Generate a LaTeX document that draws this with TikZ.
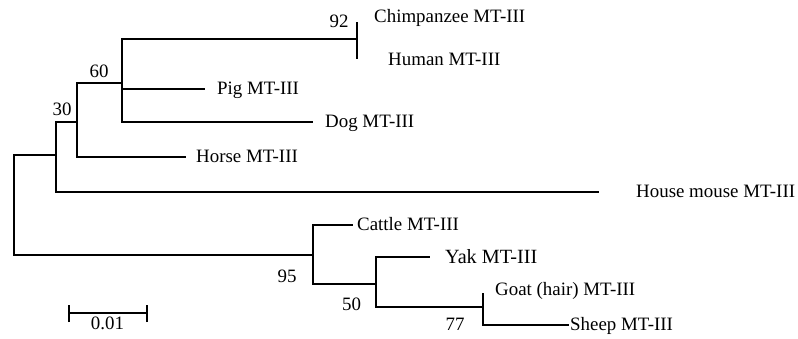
\documentclass[tikz,border=0pt]{standalone}
\usepackage{fontspec}
\setmainfont{Liberation Serif}
\begin{document}
\begin{tikzpicture}[x=1pt,y=-1pt,
  branch/.style={line width=2pt,line cap=rect},
  taxon/.style={anchor=base west,inner sep=0pt,font=\fontsize{18.9}{20}\selectfont},
  bigtaxon/.style={anchor=base west,inner sep=0pt,font=\fontsize{20.2}{22}\selectfont},
  boot/.style={anchor=center,inner sep=0pt,font=\fontsize{18.9}{20}\selectfont}]
\useasboundingbox (0,0) rectangle (798,339);

% internal nodes
\coordinate (root) at (14,205);
\coordinate (n1)   at (56,155);
\coordinate (n30)  at (77,122);
\coordinate (n60)  at (122,83);
\coordinate (n92)  at (357,39);
\coordinate (n95)  at (313,255);
\coordinate (n50)  at (376,284);
\coordinate (n77)  at (483,307);

% leaf tips
\coordinate (chimp) at (357,23);
\coordinate (human) at (357,58);
\coordinate (pig)   at (204,89);
\coordinate (dog)   at (312,122);
\coordinate (horse) at (185,157);
\coordinate (mouse) at (598,192);
\coordinate (cattle) at (352,225);
\coordinate (yak)   at (429,257);
\coordinate (goat)  at (483,294);
\coordinate (sheep) at (568,325);

% branches
\draw[branch] (root) |- (n1);
\draw[branch] (root) |- (n95);
\draw[branch] (n1) |- (n30);
\draw[branch] (n1) |- (mouse);
\draw[branch] (n30) |- (n60);
\draw[branch] (n30) |- (horse);
\draw[branch] (n60) |- (n92);
\draw[branch] (n60) |- (pig);
\draw[branch] (n60) |- (dog);
\draw[branch] (chimp) -- (human);
\draw[branch] (n95) |- (cattle);
\draw[branch] (n95) |- (n50);
\draw[branch] (n50) |- (yak);
\draw[branch] (n50) |- (n77);
\draw[branch] (n77) |- (sheep);
\draw[branch] (goat) -- (n77);

% taxon labels
\node[taxon] (tchimp) at (374,23) {Chimpanzee MT-III};
\node[taxon] (thuman) at (388,66) {Human MT-III};
\node[taxon] (tpig)   at (217,95) {Pig MT-III};
\node[taxon] (tdog)   at (325,128) {Dog MT-III};
\node[taxon] (thorse) at (196,163) {Horse MT-III};
\node[taxon] (tmouse) at (636,198) {House mouse MT-III};
\node[taxon] (tcattle) at (357,231) {Cattle MT-III};
\node[bigtaxon] (tyak) at (445,264) {Yak MT-III};
\node[taxon] (tgoat)  at (495,295) {Goat (hair) MT-III};
\node[taxon] (tsheep) at (570,330) {Sheep MT-III};

% bootstrap values
\node[boot] (b92) at (339,21.5) {92};
\node[boot] (b60) at (99,71) {60};
\node[boot] (b30) at (62,109.5) {30};
\node[boot] (b95) at (287,276) {95};
\node[boot] (b50) at (351.5,304.5) {50};
\node[boot] (b77) at (455,324) {77};

% scale bar
\coordinate (sL) at (69,313);
\coordinate (sR) at (147,313);
\draw[line width=2pt] (sL) -- (sR);
\draw[line width=2pt] ([yshift=-9pt]sL) -- ([yshift=8pt]sL);
\draw[line width=2pt] ([yshift=-9pt]sR) -- ([yshift=8pt]sR);
\node[boot] (scale) at (107.5,323.5) {0.01};
\end{tikzpicture}
\end{document}
